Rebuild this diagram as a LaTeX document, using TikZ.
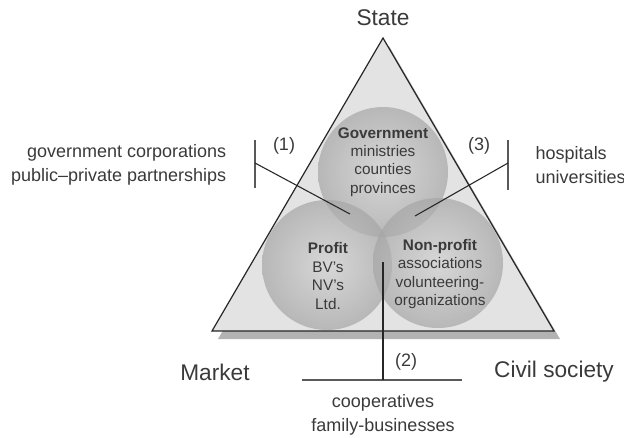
\documentclass[tikz,border=0pt]{standalone}
\usepackage{fontspec}
\setmainfont{Liberation Sans}
\usepackage{tikz}
\usetikzlibrary{positioning}
\definecolor{inkgray}{HTML}{3A3A3A}
\tikzstyle{corner} = [text=inkgray, font=\fontsize{17}{20}\selectfont]
\tikzstyle{sector} = [circle, minimum size=97.5pt, inner sep=0pt, inner color=gray!35, outer color=gray!70, fill opacity=0.7]
\tikzstyle{sectortext} = [align=center, text=inkgray, font=\fontsize{11.5}{13.8}\selectfont]
\tikzstyle{sidetext} = [text=inkgray, font=\fontsize{13.5}{18}\selectfont]
\tikzstyle{bar} = [draw=gray!70!black, line width=0.9pt]
\tikzstyle{leader} = [draw=gray!30!black, line width=0.8pt]

\begin{document}
\begin{tikzpicture}[x=0.75pt, y=-0.75pt]
	\useasboundingbox (0,0) rectangle (624,437);

	\coordinate (apex) at (383,38);
	\coordinate (bl) at (212,331);
	\coordinate (br) at (554,331);

	\fill [gray!60] ([shift={(6,8)}]apex) -- ([shift={(6,8)}]bl) -- ([shift={(6,8)}]br) -- cycle;
	\draw [fill=gray!22, draw=gray!30!black, line width=0.9pt] (apex) -- (bl) -- (br) -- cycle;

	\node (gov) [sector] at (383,172) {};
	\node (prof) [sector] at (327,265) {};
	\node (npo) [sector] at (438,263) {};

	\node (govtxt) [sectortext] at (383,162) {\textbf{Government}\\ministries\\counties\\provinces};
	\node (proftxt) [sectortext] at (328,276) {\textbf{Profit}\\BV's\\NV's\\Ltd.};
	\node (npotxt) [sectortext] at (440,274) {\textbf{Non-profit}\\associations\\volunteering-\\organizations};

	\node (state) [corner] at (383,18) {State};
	\node (market) [corner] at (215,372) {Market};
	\node (civil) [corner] at (554,372) {Civil society};

	\coordinate (b1top) at (255,140);
	\coordinate (b1bot) at (255,188);
	\coordinate (b1mid) at (255,163);
	\coordinate (gp) at (350,214);
	\coordinate (b3top) at (508,140);
	\coordinate (b3bot) at (508,190);
	\coordinate (b3mid) at (508,163);
	\coordinate (gn) at (415,216);
	\coordinate (b2left) at (302,380);
	\coordinate (b2right) at (462,380);
	\coordinate (b2mid) at (383,380);
	\coordinate (pn) at (383,262);

	\draw [bar] (b1top) -- (b1bot);
	\draw [leader] (b1mid) -- (gp);
	\draw [bar] (b3top) -- (b3bot);
	\draw [leader] (b3mid) -- (gn);
	\draw [bar] (b2left) -- (b2right);
	\draw [leader] (b2mid) -- (pn);

	\node (n1) [sidetext] at (284,146) {(1)};
	\node (n3) [sidetext] at (479,146) {(3)};
	\node (n2) [sidetext] at (406,362) {(2)};

	\node (left) [sidetext, align=right, anchor=east] at (231,165) {government corporations\\public--private partnerships};
	\node (right) [sidetext, align=left, anchor=west] at (531,165) {hospitals\\universities};
	\node (bottom) [sidetext, align=center] at (383,415) {cooperatives\\family-businesses};
\end{tikzpicture}
\end{document}
